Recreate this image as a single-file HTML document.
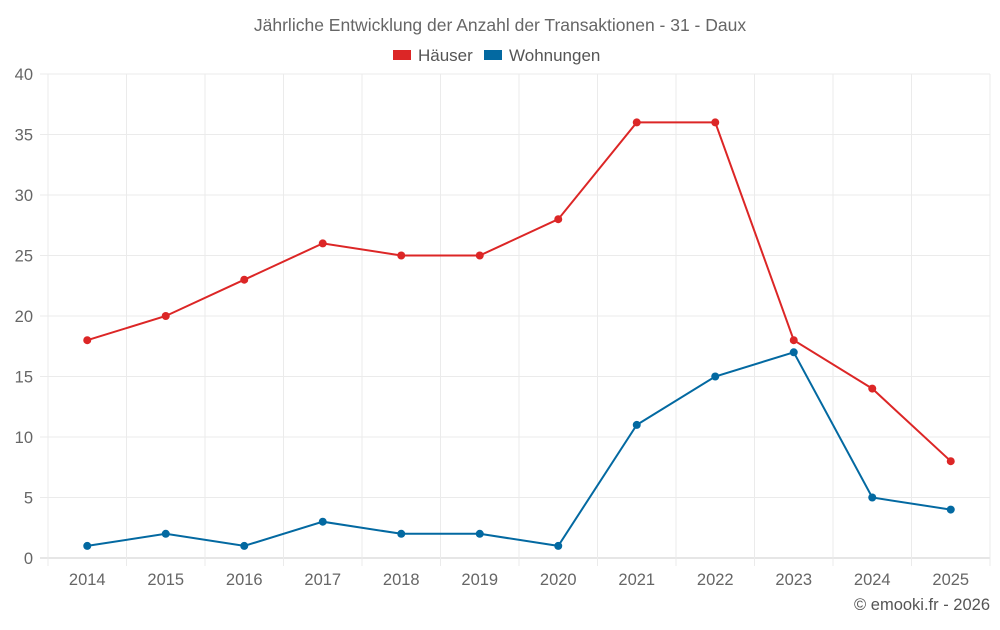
<!DOCTYPE html>
<html><head><meta charset="utf-8"><style>
body{margin:0;background:#fff;font-family:"Liberation Sans",sans-serif}
</style></head><body>
<svg id="c" width="1000" height="625" xmlns="http://www.w3.org/2000/svg">
<text x="500" y="31" text-anchor="middle" font-size="17.5" fill="#666">Jährliche Entwicklung der Anzahl der Transaktionen - 31 - Daux</text>
<g>
<g><rect x="393" y="50" width="18" height="10" fill="#dc2626"/><text x="418" y="61" font-size="17" fill="#555">Häuser</text></g>
<g><rect x="484" y="50" width="18" height="10" fill="#0369a1"/><text x="509" y="61" font-size="17" fill="#555">Wohnungen</text></g>
</g>
<g id="grid"></g><g id="axes"></g><g id="series"></g>
<text x="990" y="610" text-anchor="end" font-size="16.5" fill="#555">© emooki.fr - 2026</text>
</svg>
<script>
const years=["2014","2015","2016","2017","2018","2019","2020","2021","2022","2023","2024","2025"];
const haeuser=[18,20,23,26,25,25,28,36,36,18,14,8];
const wohnungen=[1,2,1,3,2,2,1,11,15,17,5,4];
const yTicks=[0,5,10,15,20,25,30,35,40];
const L=48,R=990,T=74,B=558,yMax=40;
const bw=(R-L)/years.length;
const x=i=>L+bw*(i+0.5);
const y=v=>B-(v/yMax)*(B-T);
const NS="http://www.w3.org/2000/svg";
function mk(t,a,p){const e=document.createElementNS(NS,t);for(const k in a)e.setAttribute(k,a[k]);p.appendChild(e);return e;}
const g=document.getElementById('grid'),ax=document.getElementById('axes'),s=document.getElementById('series');
yTicks.forEach(v=>{
 const l=mk('line',{x1:L-8,x2:R,y1:y(v),y2:y(v),stroke:v===0?'#ccc':'#ebebeb'},g);
 
 
 const t=mk('text',{x:33,y:y(v)+6,'text-anchor':'end','font-size':16.5,fill:'#666'},ax);t.textContent=v;
 
 
});
for(let i=0;i<=years.length;i++){
 const l=mk('line',{x1:L+bw*i,x2:L+bw*i,y1:T,y2:B+8,stroke:'#ebebeb'},g);
 
 
}
years.forEach((yr,i)=>{
 const t=mk('text',{x:x(i),y:585,'text-anchor':'middle','font-size':16.5,fill:'#666'},ax);t.textContent=yr;
 
 
});
function draw(data,col,name){
 const p=mk('polyline',{points:data.map((v,i)=>x(i)+','+y(v)).join(' '),fill:'none',stroke:col,'stroke-width':2},s);
 
 
 data.forEach((v,i)=>{
  const c=mk('circle',{cx:x(i),cy:y(v),r:4,fill:col},s);
  
  
 });
}
draw(haeuser,'#dc2626','haeuser');
draw(wohnungen,'#0369a1','wohnungen');
</script>
</body></html>
